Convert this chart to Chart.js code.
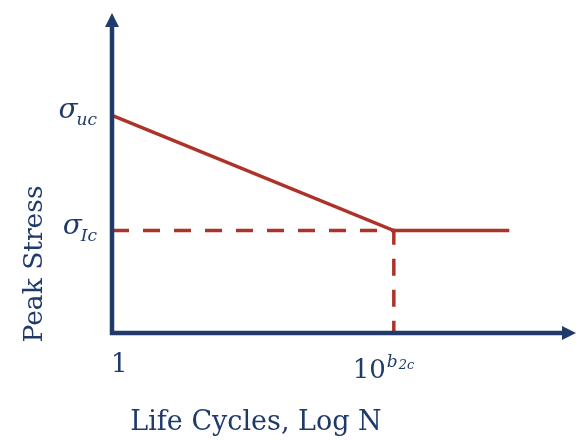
<!DOCTYPE html>
<html>
<head>
<meta charset="utf-8">
<script src="https://cdn.jsdelivr.net/npm/chart.js@4"></script>
<style>
  html, body { margin: 0; padding: 0; background: #fff; }
  #wrap { width: 576px; height: 441px; }
</style>
</head>
<body>
<div id="wrap"><canvas id="snChart" width="576" height="441"></canvas></div>
<script>
// ── S-N curve: peak stress vs life cycles (log N) ────────────────────────────

// Curve (log N on x, stress on y, arbitrary units)
const curveX  = [0, 61, 86];
const curveY  = [68, 32, 32];
// Dashed guide lines to the knee
const guideX  = [0, 61, 61];
const guideY  = [32, 32, 0];

// Tick marks and their labels
const xTickVals   = [0, 61];
const xTickBase   = ['1', '10'];
const xTickSup    = ['', 'b'];
const xTickSupSub = ['', '2c'];
const yTickVals   = [68, 32];
const yTickSub    = ['uc', 'Ic'];

const NAVY = '#1f3a6b';
const RED  = '#ad3328';
const SERIF = "'DejaVu Serif', 'Liberation Serif', serif";

const toPts = (xs, ys) => xs.map((x, i) => ({ x, y: ys[i] }));

const axesPlugin = {
  id: 'axesAndLabels',
  afterDatasetsDraw(chart) {
    const { ctx, scales: { x, y } } = chart;
    const x0 = x.getPixelForValue(0);
    const y0 = y.getPixelForValue(0);
    const yTop = y.getPixelForValue(y.max);
    const xEnd = x.getPixelForValue(x.max) + 2;

    ctx.save();
    // axis lines
    ctx.strokeStyle = NAVY;
    ctx.fillStyle   = NAVY;
    ctx.lineWidth   = 4.5;
    ctx.lineCap     = 'butt';
    ctx.beginPath();
    ctx.moveTo(x0, yTop + 12);
    ctx.lineTo(x0, y0);
    ctx.lineTo(xEnd - 12, y0);
    ctx.stroke();
    // arrow heads
    ctx.beginPath();
    ctx.moveTo(x0, yTop);
    ctx.lineTo(x0 - 7, yTop + 14);
    ctx.lineTo(x0 + 7, yTop + 14);
    ctx.closePath();
    ctx.fill();
    ctx.beginPath();
    ctx.moveTo(xEnd, y0);
    ctx.lineTo(xEnd - 14, y0 - 7);
    ctx.lineTo(xEnd - 14, y0 + 7);
    ctx.closePath();
    ctx.fill();

    // x tick labels
    ctx.textBaseline = 'alphabetic';
    ctx.textAlign = 'left';
    xTickVals.forEach((v, i) => {
      const px = x.getPixelForValue(v);
      ctx.font = `26px ${SERIF}`;
      const baseW = ctx.measureText(xTickBase[i]).width;
      const tx = i === 0 ? px - 1 : px - baseW - 8;
      const by = i === 0 ? y0 + 39 : y0 + 45;
      ctx.fillText(xTickBase[i], tx, by);
      if (xTickSup[i]) {
        ctx.font = `italic 17px ${SERIF}`;
        const supW = ctx.measureText(xTickSup[i]).width;
        ctx.fillText(xTickSup[i], tx + baseW + 1, by - 11);
        ctx.font = `italic 13px ${SERIF}`;
        ctx.fillText(xTickSupSub[i], tx + baseW + supW + 2, by - 9);
      }
    });

    // y tick labels: sigma with subscript
    yTickVals.forEach((v, i) => {
      const py = y.getPixelForValue(v);
      ctx.font = `italic 17px ${SERIF}`;
      const subW = ctx.measureText(yTickSub[i]).width;
      const subX = x0 - 15 - subW;
      ctx.textAlign = 'left';
      ctx.fillText(yTickSub[i], subX, py + 10);
      ctx.font = `italic 28px ${SERIF}`;
      ctx.textAlign = 'right';
      ctx.fillText('σ', subX + 1, py + 3);
    });

    // axis titles
    ctx.font = `27px ${SERIF}`;
    ctx.textAlign = 'center';
    ctx.fillText('Life Cycles, Log N', 256, 430);
    ctx.font = `26.5px ${SERIF}`;
    ctx.save();
    ctx.translate(42, 264);
    ctx.rotate(-Math.PI / 2);
    ctx.fillText('Peak Stress', 0, 0);
    ctx.restore();
    ctx.restore();
  }
};

new Chart(document.getElementById('snChart'), {
  type: 'scatter',
  data: {
    datasets: [
      {
        label: 'guide',
        data: toPts(guideX, guideY),
        showLine: true,
        borderColor: RED,
        borderWidth: 3.5,
        borderDash: [17, 14],
        pointRadius: 0,
        order: 2,
      },
      {
        label: 'curve',
        data: toPts(curveX, curveY),
        showLine: true,
        borderColor: RED,
        borderWidth: 3.5,
        pointRadius: 0,
        order: 1,
      },
    ],
  },
  options: {
    responsive: false,
    animation: false,
    devicePixelRatio: 1,
    layout: { padding: { left: 112, right: 2, top: 13, bottom: 108 } },
    plugins: {
      legend:  { display: false },
      tooltip: { enabled: false },
    },
    scales: {
      x: { type: 'linear', display: false, min: 0, max: 100 },
      y: { type: 'linear', display: false, min: 0, max: 100 },
    },
  },
  plugins: [axesPlugin],
});
</script>
</body>
</html>
